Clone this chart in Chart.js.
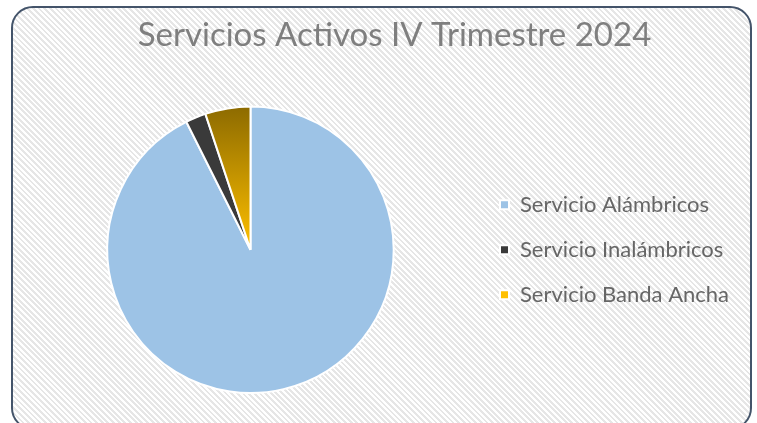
<!DOCTYPE html>
<html>
<head>
<meta charset="utf-8">
<script src="https://cdn.jsdelivr.net/npm/chart.js@4"></script>
<style>
  html, body { margin: 0; padding: 0; background: #fff; overflow: hidden; }
  #marco {
    position: absolute; left: 11px; top: 6px; width: 737px; height: 420px;
    border: 2px solid #44546a; border-radius: 22px;
    background: repeating-linear-gradient(45deg, #ffffff 0px, #ffffff 2px, #e6e6e6 2px, #e6e6e6 4px);
  }
  #lienzo { position: absolute; left: 0; top: 0; width: 757px; height: 423px; }
</style>
</head>
<body>
<div id="marco"></div>
<div id="lienzo"><canvas id="grafico" width="757" height="423"></canvas></div>
<script>
// Datos
const categorias = ["Servicio Alámbricos", "Servicio Inalámbricos", "Servicio Banda Ancha"];
const valores = [92.6, 2.3, 5.1];
const colores = ["#9dc3e6", "#3a3a3a", "#ffc000"];
const titulo = "Servicios Activos IV Trimestre 2024";

// Degradado dorado para la rebanada de banda ancha
function colorRebanada(context) {
  const i = context.dataIndex;
  if (i !== 2) return colores[i];
  const area = context.chart.chartArea;
  if (!area) return colores[i];
  const ctx = context.chart.ctx;
  const centroY = (area.top + area.bottom) / 2;
  const grad = ctx.createLinearGradient(0, area.top, 0, centroY);
  grad.addColorStop(0, "#8c6a00");
  grad.addColorStop(1, "#ffc000");
  return grad;
}

// Mover el título un poco a la derecha (como en el original)
const moverTitulo = {
  id: "moverTitulo",
  afterLayout(chart) {
    if (chart.titleBlock) {
      chart.titleBlock.left += 13;
      chart.titleBlock.right += 13;
    }
  }
};

const ctx = document.getElementById("grafico").getContext("2d");
new Chart(ctx, {
  type: "pie",
  data: {
    labels: categorias,
    datasets: [{
      data: valores,
      backgroundColor: colorRebanada,
      borderColor: "#ffffff",
      borderWidth: 2,
      hoverOffset: 0,
      offset: 0
    }]
  },
  options: {
    responsive: false,
    animation: false,
    layout: { padding: { left: 24, right: 18, top: 0, bottom: 29 } },
    plugins: {
      title: {
        display: true,
        text: titulo,
        color: "#7f7f7f",
        font: { family: "Lato", size: 33, weight: "normal" },
        padding: { top: 16, bottom: 50 }
      },
      legend: {
        position: "right",
        fullSize: false,
        labels: {
          color: "#666666",
          font: { family: "Lato", size: 22 },
          boxWidth: 9,
          boxHeight: 9,
          padding: 23
        }
      },
      tooltip: { enabled: false }
    }
  },
  plugins: [moverTitulo]
});
</script>
</body>
</html>
